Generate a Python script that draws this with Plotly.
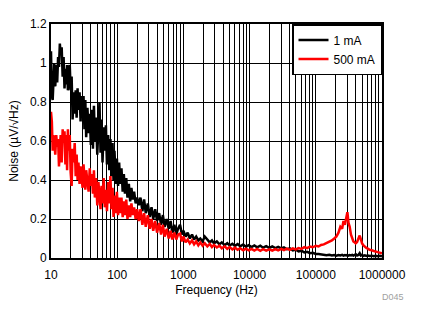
import plotly.graph_objects as go

# ---------------- data ----------------
freq_low = [10, 10.3, 10.6, 10.9, 11.2, 11.6, 12, 12.4, 12.8, 13.2,
            13.6, 14, 14.5, 15, 15.5, 16, 16.5, 17, 17.5, 18,
            18.6, 19.2, 19.8, 20.5, 21.2, 22, 22.8, 23.6, 24.4, 25.2,
            26, 27, 28, 29, 30, 31, 32, 33, 34, 35.5,
            37, 38.5, 40, 41.5, 43, 44.5, 46, 48, 50, 52,
            54, 56, 58, 60, 62.5, 65, 67.5, 70, 73, 76,
            79, 82, 85, 88, 91, 95, 99, 103, 107, 111,
            116, 121, 126, 131, 137, 143, 150, 157, 164, 172,
            180, 190, 200]
freq_mid = [212, 225, 240, 255, 270, 290, 310, 330, 350, 375,
            400, 430, 460, 490, 520, 560, 600, 640, 680, 730,
            780, 830, 890, 950, 1000, 1080, 1160, 1250, 1350, 1450,
            1560, 1680, 1800, 1950, 2100, 2300, 2500, 2700, 2900, 3200,
            3500, 3800, 4200, 4600, 5000, 5500, 6000, 6600, 7200, 8000,
            8800, 9700, 10700, 11800, 13000, 14500, 16000, 17800, 19800]
freq_high = [22000, 24500, 27000, 30000, 33000, 36500, 40500, 45000, 50000, 55000,
             61000, 67000, 74000, 82000, 90000, 100000, 110000, 120000, 132000, 145000,
             160000, 175000, 190000, 205000, 220000, 235000, 250000, 262000, 275000, 288000,
             300000, 312000, 325000, 340000, 355000, 370000, 385000, 400000, 420000, 440000,
             460000, 480000, 500000, 525000, 550000, 580000, 610000, 650000, 700000, 750000,
             800000, 860000, 930000, 1000000]

noise_1mA_low = [1.06, 0.83, 0.81, 0.96, 1.0, 0.88, 0.99, 0.9, 1.03, 0.98,
                 1.1, 1.04, 1.08, 0.93, 1.03, 0.87, 0.97, 0.89, 0.99, 0.86,
                 0.97, 0.99, 0.86, 0.93, 0.71, 0.85, 0.74, 0.86, 0.72, 0.87,
                 0.76, 0.85, 0.7, 0.83, 0.73, 0.83, 0.66, 0.81, 0.62, 0.77,
                 0.64, 0.74, 0.58, 0.76, 0.56, 0.78, 0.6, 0.72, 0.53, 0.73,
                 0.8, 0.54, 0.71, 0.49, 0.67, 0.55, 0.68, 0.48, 0.63, 0.45,
                 0.61, 0.42, 0.59, 0.4, 0.55, 0.38, 0.51, 0.37, 0.49, 0.38,
                 0.46, 0.34, 0.43, 0.33, 0.41, 0.31, 0.38, 0.29, 0.36, 0.3,
                 0.34, 0.28, 0.31]
noise_1mA_mid = [0.27, 0.31, 0.24, 0.3, 0.23, 0.28, 0.21, 0.26, 0.2, 0.25,
                 0.19, 0.23, 0.17, 0.22, 0.16, 0.2, 0.15, 0.19, 0.13, 0.17,
                 0.12, 0.15, 0.17, 0.12, 0.14, 0.11, 0.13, 0.1, 0.12, 0.095,
                 0.11, 0.09, 0.1, 0.085, 0.11, 0.095, 0.08, 0.09, 0.075, 0.085,
                 0.07, 0.08, 0.066, 0.076, 0.064, 0.073, 0.062, 0.071, 0.06, 0.069,
                 0.058, 0.066, 0.056, 0.064, 0.055, 0.063, 0.053, 0.061, 0.052]
noise_1mA_high = [0.059, 0.051, 0.057, 0.049, 0.054, 0.045, 0.049, 0.039, 0.043, 0.034,
                  0.037, 0.029, 0.032, 0.025, 0.027, 0.021, 0.02, 0.017, 0.017, 0.014,
                  0.016, 0.013, 0.015, 0.012, 0.015, 0.013, 0.016, 0.012, 0.015, 0.013,
                  0.016, 0.012, 0.015, 0.013, 0.016, 0.012, 0.015, 0.02, 0.013, 0.016,
                  0.025, 0.013, 0.016, 0.011, 0.014, 0.011, 0.013, 0.01, 0.012, 0.009,
                  0.011, 0.009, 0.011, 0.009]

noise_500mA_low = [0.75, 0.7, 0.55, 0.63, 0.6, 0.53, 0.63, 0.57, 0.61, 0.47,
                   0.56, 0.63, 0.49, 0.66, 0.59, 0.65, 0.48, 0.63, 0.45, 0.66,
                   0.55, 0.63, 0.44, 0.37, 0.56, 0.49, 0.59, 0.42, 0.53, 0.4,
                   0.49, 0.38, 0.47, 0.41, 0.36, 0.48, 0.4, 0.35, 0.45, 0.38,
                   0.34, 0.46, 0.37, 0.43, 0.33, 0.45, 0.31, 0.41, 0.27, 0.39,
                   0.29, 0.25, 0.37, 0.28, 0.41, 0.26, 0.35, 0.24, 0.39, 0.28,
                   0.42, 0.25, 0.36, 0.21, 0.32, 0.23, 0.34, 0.22, 0.31, 0.23,
                   0.31, 0.21, 0.29, 0.22, 0.3, 0.2, 0.27, 0.21, 0.28, 0.22,
                   0.26, 0.2, 0.25]
noise_500mA_mid = [0.19, 0.25, 0.17, 0.23, 0.16, 0.22, 0.15, 0.2, 0.14, 0.19,
                   0.13, 0.18, 0.12, 0.17, 0.11, 0.15, 0.1, 0.14, 0.095, 0.13,
                   0.095, 0.12, 0.125, 0.085, 0.11, 0.08, 0.095, 0.075, 0.09, 0.07,
                   0.085, 0.065, 0.08, 0.063, 0.076, 0.06, 0.072, 0.056, 0.067, 0.054,
                   0.063, 0.05, 0.06, 0.047, 0.056, 0.044, 0.053, 0.042, 0.05, 0.04,
                   0.048, 0.039, 0.047, 0.038, 0.046, 0.037, 0.045, 0.038, 0.044]
noise_500mA_high = [0.038, 0.046, 0.039, 0.047, 0.041, 0.048, 0.042, 0.049, 0.044, 0.051,
                    0.047, 0.056, 0.051, 0.059, 0.055, 0.063, 0.059, 0.067, 0.07, 0.076,
                    0.085, 0.09, 0.1, 0.11, 0.13, 0.16, 0.15, 0.19, 0.17, 0.21,
                    0.235, 0.18, 0.16, 0.12, 0.1, 0.085, 0.08, 0.075, 0.082, 0.1,
                    0.115, 0.095, 0.075, 0.065, 0.058, 0.052, 0.048, 0.042, 0.04, 0.035,
                    0.033, 0.03, 0.026, 0.024]

series_names = ["1 mA", "500 mA"]
series_colors = ["#000000", "#FF0000"]
x_tick_vals = [10, 100, 1000, 10000, 100000, 1000000]
x_tick_text = ["10", "100", "1000", "10000", "100000", "1000000"]
y_tick_vals = [0, 0.2, 0.4, 0.6, 0.8, 1.0, 1.2]
y_tick_text = ["0", "0.2", "0.4", "0.6", "0.8", "1", "1.2"]

freq = freq_low + freq_mid + freq_high
series_values = [noise_1mA_low + noise_1mA_mid + noise_1mA_high,
                 noise_500mA_low + noise_500mA_mid + noise_500mA_high]

minor_vals = [d * k for d in x_tick_vals[:-1] for k in range(2, 10)]

FONT = "Arial, Liberation Sans, sans-serif"

fig = go.Figure()
for name, color, vals in zip(series_names, series_colors, series_values):
    fig.add_trace(go.Scatter(x=freq, y=vals, mode="lines", name=name,
                             line=dict(color=color, width=2.5)))

fig.update_layout(
    width=423, height=324,
    margin=dict(l=51, r=41, t=24, b=66),
    paper_bgcolor="white", plot_bgcolor="white",
    font=dict(family=FONT, size=12, color="#000000"),
    showlegend=True,
    legend=dict(x=1, y=1, xanchor="right", yanchor="top",
                bgcolor="white", bordercolor="#000000", borderwidth=1.5,
                font=dict(family=FONT, size=12, color="#000000"),
                tracegroupgap=0, itemwidth=30),
    xaxis=dict(type="log", range=[1, 6],
               tickvals=x_tick_vals, ticktext=x_tick_text,
               ticklabelstandoff=5,
               showgrid=True, gridcolor="#000000", gridwidth=1,
               minor=dict(tickvals=minor_vals, showgrid=True,
                          gridcolor="#000000", gridwidth=1, ticks=""),
               showline=True, linecolor="#000000", linewidth=2, mirror=True,
               ticks="", zeroline=False,
               title=dict(text="Frequency (Hz)", standoff=4,
                          font=dict(family=FONT, size=12))),
    yaxis=dict(range=[0, 1.2], tickvals=y_tick_vals, ticktext=y_tick_text,
               showgrid=True, gridcolor="#000000", gridwidth=1,
               showline=True, linecolor="#000000", linewidth=2, mirror=True,
               ticks="", zeroline=False,
               title=dict(text="Noise (µV/√Hz)", standoff=9,
                          font=dict(family=FONT, size=12))),
    annotations=[dict(text="D045", xref="paper", yref="paper",
                      x=1.0, y=-0.12, xanchor="left", yanchor="top",
                      xshift=-2, yshift=-4, showarrow=False,
                      font=dict(family=FONT, size=9, color="#A0A0A0"))],
)

fig.write_html("out.html")
